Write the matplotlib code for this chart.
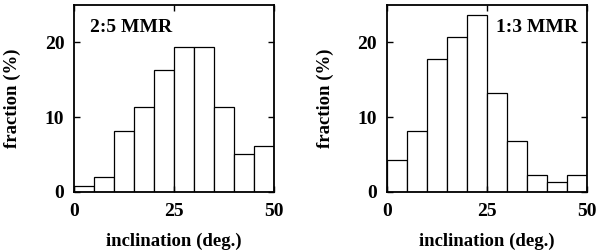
import matplotlib
matplotlib.use("Agg")
import matplotlib.pyplot as plt
import numpy as np

bin_edges = [0, 5, 10, 15, 20, 25, 30, 35, 40, 45, 50]
frac_25 = [0.8, 2.0, 8.2, 11.3, 16.3, 19.4, 19.4, 11.3, 5.1, 6.2]
frac_13 = [4.3, 8.1, 17.8, 20.7, 23.6, 13.2, 6.8, 2.3, 1.3, 2.3]
labels = ["2:5 MMR", "1:3 MMR"]
xticks = [0, 25, 50]
yticks = [0, 10, 20]

plt.rcParams['font.family'] = ['Liberation Serif', 'DejaVu Serif']
plt.rcParams['font.weight'] = 'bold'

fig = plt.figure(figsize=(6, 2.5), dpi=100)
axes = [fig.add_axes([0.1233, 0.232, 0.3333, 0.748]),
        fig.add_axes([0.6445, 0.232, 0.3333, 0.748])]

for ax, vals, lab, tx in zip(axes, [frac_25, frac_13], labels, [4, 27.3]):
    ax.bar(bin_edges[:-1], vals, width=5, align='edge', facecolor='white',
           edgecolor='black', linewidth=0.9)
    ax.set_xlim(0, 50)
    ax.set_ylim(0, 25)
    ax.set_xticks(xticks)
    ax.set_yticks(yticks)
    ax.tick_params(direction='in', top=True, right=True, length=4, width=1,
                   labelsize=14)
    ax.tick_params(axis='x', pad=8)
    ax.tick_params(axis='y', pad=7)
    for s in ax.spines.values():
        s.set_linewidth(1.3)
    for t in ax.get_xticklabels() + ax.get_yticklabels():
        t.set_fontweight('bold')
    ax.set_xlabel("inclination (deg.)", fontsize=13.5, fontweight='bold', labelpad=9)
    ax.set_ylabel("fraction (%)", fontsize=13.5, fontweight='bold', labelpad=17)
    ax.text(tx, 22, lab, fontsize=14, fontweight='bold', va='center', ha='left')

fig.savefig("out.png", dpi=100)
